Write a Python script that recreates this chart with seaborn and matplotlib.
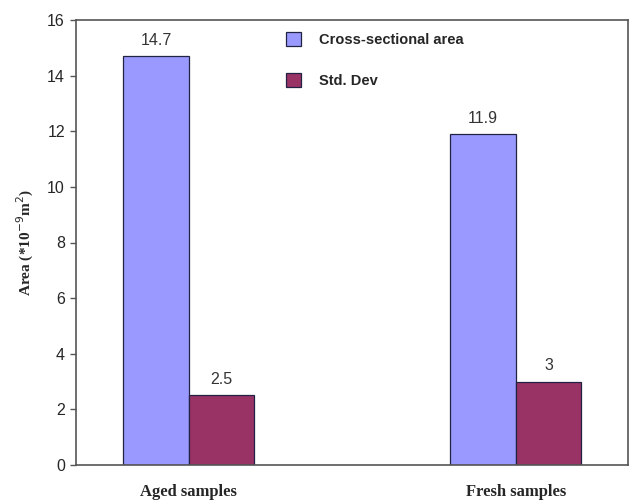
import pandas as pd
import seaborn as sns
import matplotlib.pyplot as plt

# data
samples = ['Aged samples', 'Fresh samples']
series = ['Cross-sectional area', 'Std. Dev']
area = [14.7, 11.9]
std_dev = [2.5, 3]
value_labels = [['14.7', '11.9'], ['2.5', '3']]
y_ticks = [0, 2, 4, 6, 8, 10, 12, 14, 16]

df = pd.DataFrame({
    'sample': samples * 2,
    'series': [series[0]] * 2 + [series[1]] * 2,
    'value': area + std_dev,
})

sns.set_style('ticks')
plt.rcParams['font.family'] = ['Liberation Sans', 'DejaVu Sans']

fig = plt.figure(figsize=(6.3, 5), dpi=100)
ax = fig.add_axes([76 / 630, 35 / 500, 552 / 630, 445 / 500])

sns.barplot(data=df, x='sample', y='value', hue='series',
            palette=['#9999FF', '#993366'], width=0.4,
            edgecolor='#222244', linewidth=0.9, saturation=1,
            ax=ax, legend=True)

for cont, labs in zip(ax.containers, value_labels):
    ax.bar_label(cont, labels=labs, padding=6, fontsize=11.5, color='#333333')

ax.set_xlim(-0.345, 1.343)
ax.set_ylim(0, 16)
ax.set_yticks(y_ticks)
ax.tick_params(axis='y', labelsize=11.5, length=4, width=1, color='#555555', pad=4)
ax.tick_params(axis='x', length=0, pad=14)
for lab in ax.get_xticklabels():
    lab.set_fontfamily('Liberation Serif')
    lab.set_fontweight('bold')
    lab.set_fontsize(12)

ax.set_xlabel('')
ax.set_ylabel('Area (*10$^{-9}$m$^{2}$)', fontfamily='Liberation Serif',
              fontweight='bold', fontsize=11, labelpad=8)

for sp in ax.spines.values():
    sp.set_visible(True)
    sp.set_color('#555555')
    sp.set_linewidth(1.2)

handles, labels = ax.get_legend_handles_labels()
ax.get_legend().remove()
leg = fig.legend(handles, labels, loc='upper left',
                 bbox_to_anchor=(286 / 630, 1 - 32 / 500), frameon=False,
                 handlelength=1.05, handleheight=1.05, labelspacing=1.8,
                 handletextpad=1.2, borderpad=0, borderaxespad=0,
                 prop={'weight': 'bold', 'size': 10.5})

fig.savefig('out.png', dpi=100)
